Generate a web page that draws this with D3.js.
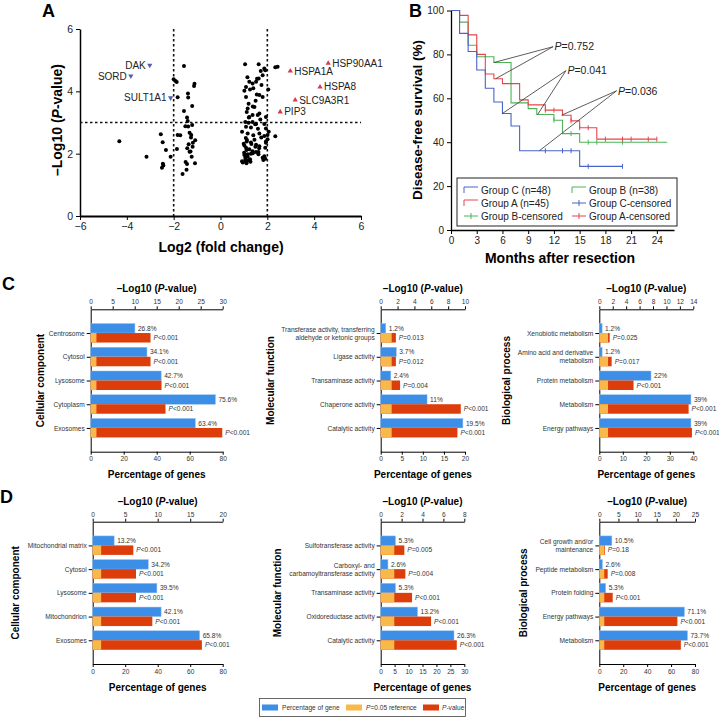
<!DOCTYPE html>
<html>
<head>
<meta charset="utf-8">
<script src="https://cdn.jsdelivr.net/npm/d3@7"></script>
<style>
  body { margin: 0; background: #fff; }
  svg { font-family: "Liberation Sans", Arial, sans-serif; }
</style>
</head>
<body>
<div id="fig"></div>
<script>
// ---------- panel A : volcano ----------
// [log2 fold change, -log10 p]
const volcanoPoints = [
  [-4.32,2.40],[-3.16,1.90],[-2.55,2.62],[-2.47,2.37],[-2.33,2.12],[-2.46,1.68],[-2.50,1.55],[-2.44,1.62],
  [-2.13,1.90],[-2.00,4.39],[-1.92,4.33],[-1.87,4.30],[-1.83,3.81],[-1.83,2.60],[-1.72,2.59],[-1.86,2.15],
  [-1.56,4.81],[-1.56,3.37],[-1.43,3.16],[-1.40,3.05],[-1.38,2.87],[-1.50,2.88],[-1.26,2.52],[-1.36,2.30],
  [-1.28,2.07],[-1.23,1.90],[-1.43,1.67],[-1.45,1.48],[-1.62,1.35],[-1.39,3.93],[-1.38,3.80],[-1.21,3.53],
  [-1.11,4.24],[-1.13,4.17],[-1.08,2.43],[-1.18,2.35],[-1.09,1.69],[-1.25,2.60],[-1.21,2.92],[-1.42,2.17],
  [-1.32,2.06],[-1.32,2.67],[-1.19,2.22],[-1.49,1.73],
  [1.05,4.87],[1.63,4.87],[1.87,4.73],[2.44,4.79],[2.34,4.77],[1.80,4.52],[1.63,4.41],[1.52,4.31],
  [1.37,4.25],[1.23,4.31],[1.09,4.14],[1.26,4.06],[1.40,4.10],[2.04,4.06],[1.66,3.88],[1.09,3.82],
  [1.80,3.82],[1.16,3.45],[1.45,3.50],[1.12,3.34],[1.37,3.24],[1.66,3.29],[1.23,3.18],[1.94,3.18],
  [1.06,3.02],[1.20,2.99],[1.37,3.02],[1.52,2.95],[1.09,2.86],[1.30,2.84],[1.87,2.95],[1.94,2.81],
  [2.06,2.70],[0.92,2.70],[1.16,2.65],[1.40,2.59],[1.66,2.65],[1.74,2.52],[1.87,2.57],[2.01,2.60],
  [2.34,2.56],[2.01,2.46],[1.94,2.39],[1.13,2.44],[1.30,2.36],[1.52,2.29],[1.66,2.24],[0.99,2.32],
  [1.09,2.19],[1.23,2.14],[1.37,2.08],[1.01,2.03],[1.16,1.98],[1.30,2.00],[1.06,1.87],[0.92,1.76],
  [1.09,1.73],[1.26,1.82],[1.80,1.87],[1.87,1.92],[1.62,2.05],[1.91,2.19],
  [1.72,4.65],[1.91,4.68],[1.56,4.40],[1.02,4.02],[1.55,3.90],[1.38,3.51],[1.59,3.24],[1.21,3.16],
  [1.48,2.94],[1.94,2.35],[1.12,2.39],[1.32,2.31],[1.49,2.22],[1.65,2.17],[1.02,2.26],[1.11,2.12],
  [1.38,2.01],[1.02,1.96],[1.16,1.90],[1.06,1.80],[0.95,1.72],[1.11,1.69],[1.28,1.74],[1.83,1.80],
  [1.91,1.84],[1.52,2.05],[1.62,1.98],[1.19,1.78],[1.20,3.60],[1.50,3.70],[1.70,3.10],[1.08,2.50],
  [1.60,2.80],[1.45,2.45],[1.15,4.45],[1.75,4.20]
];
const upGenes = ["HSP90AA1", "HSPA1A", "HSPA8", "SLC9A3R1", "PIP3"];
const upFold = [4.60, 2.98, 4.25, 3.19, 2.55];
const upLogP = [4.90, 4.65, 4.14, 3.72, 3.34];
const downGenes = ["DAK", "SORD", "SULT1A1"];
const downFold = [-3.02, -3.83, -2.13];
const downLogP = [4.84, 4.49, 3.79];
const volcanoXTicks = [-6, -4, -2, 0, 2, 4, 6];
const volcanoYTicks = [0, 2, 4, 6];
const foldCut = [-2, 2];
const pCut = 3;

// ---------- panel B : Kaplan-Meier ----------
const groupCMonths = [0, 1, 2, 3, 4, 5, 6, 7, 8, 15, 20];
const groupCSurv = [100, 89.6, 81.3, 72.9, 64.6, 58.3, 53.1, 47.4, 36.1, 29.0, 29.0];
const groupCCensor = [11, 13, 14, 16, 20];
const groupAMonths = [0, 1, 2, 3, 4, 5, 6, 8, 9, 11, 13, 14, 15, 17, 24];
const groupASurv = [100, 97.8, 88.9, 80.0, 71.1, 68.9, 66.7, 59.3, 57.0, 54.6, 52.3, 49.7, 46.6, 41.4, 41.4];
const groupACensor = [11, 12, 14, 15, 16, 18, 20, 21, 23, 24];
const groupBMonths = [0, 1, 2, 3, 5, 7, 9, 10, 12, 13, 15, 25.2];
const groupBSurv = [100, 94.7, 84.2, 78.9, 76.3, 57.9, 55.3, 52.6, 50.0, 43.9, 40.0, 40.0];
const groupBCensor = [12, 14, 16, 17, 20];
const kmMonthTicks = [0, 3, 6, 9, 12, 15, 18, 21, 24];
const kmSurvTicks = [0, 20, 40, 60, 80, 100];
const pNotes = ["0.752", "0.041", "0.036"];
const pAnchor = [[11.9, 83.5], [13.4, 72.6], [19.3, 63.4]];
const pTargets = [[[5.0, 76.3], [5.2, 68.9]], [[6.0, 53.1], [10.1, 52.6]], [[12.9, 52.3], [10.3, 36.1]]];

// ---------- panels C / D : enrichment bars ----------
const refLogP = 1.301; // -log10(0.05)

const c1Cats = ["Centrosome", "Cytosol", "Lysosome", "Cytoplasm", "Exosomes"];
const c1Pct = [26.8, 34.1, 42.7, 75.6, 63.4];
const c1LogP = [13.6, 13.6, 16.1, 17.0, 29.9];
const c1PText = ["<0.001", "<0.001", "<0.001", "<0.001", "<0.001"];

const c2Cats = ["Transferase activity, transferring\naldehyde or ketonic groups", "Ligase activity",
  "Transaminase activity", "Chaperone activity", "Catalytic activity"];
const c2Pct = [1.2, 3.7, 2.4, 11, 19.5];
const c2LogP = [1.8, 1.8, 2.3, 9.5, 9.1];
const c2PText = ["=0.013", "=0.012", "=0.004", "<0.001", "<0.001"];

const c3Cats = ["Xenobiotic metabolism", "Amino acid and derivative\nmetabolism", "Protein metabolism",
  "Metabolism", "Energy pathways"];
const c3Pct = [1.2, 1.2, 22, 39, 39];
const c3LogP = [1.55, 1.84, 5.1, 13.3, 13.8];
const c3PText = ["=0.025", "=0.017", "<0.001", "<0.001", "<0.001"];

const d1Cats = ["Mitochondrial matrix", "Cytosol", "Lysosome", "Mitochondrion", "Exosomes"];
const d1Pct = [13.2, 34.2, 39.5, 42.1, 65.8];
const d1LogP = [6.25, 6.66, 6.66, 9.17, 16.8];
const d1PText = ["<0.001", "<0.001", "<0.001", "<0.001", "<0.001"];

const d2Cats = ["Sulfotransferase activity", "Carboxyl- and\ncarbamoyltransferase activity",
  "Transaminase activity", "Oxidoreductase activity", "Catalytic activity"];
const d2Pct = [5.3, 2.6, 5.3, 13.2, 26.3];
const d2LogP = [2.26, 2.36, 3.0, 4.82, 7.28];
const d2PText = ["=0.005", "=0.004", "<0.001", "<0.001", "<0.001"];

const d3Cats = ["Cell growth and/or\nmaintenance", "Peptide metabolism", "Protein folding",
  "Energy pathways", "Metabolism"];
const d3Pct = [10.5, 2.6, 5.3, 71.1, 73.7];
const d3LogP = [1.45, 2.19, 3.5, 20.4, 21.3];
const d3PText = ["=0.18", "=0.008", "<0.001", "<0.001", "<0.001"];

const legendNames = ["Percentage of gene", "P=0.05 reference", "P-value"];

const blue = "#3d8ee6", orange = "#f8b94a", red = "#dc3d0b";

const width = 719, height = 718;
const svg = d3.select("#fig").append("svg")
  .attr("width", width).attr("height", height)
  .attr("viewBox", [0, 0, width, height]);

function panelLetter(t, x, y) {
  svg.append("text").attr("x", x).attr("y", y)
    .style("font-size", "18px").style("font-weight", "bold").text(t);
}

// text with italic "P"
function pText(sel, rest) {
  sel.append("tspan").style("font-style", "italic").text("P");
  sel.append("tspan").text(rest);
}

/* ===================== Panel A ===================== */
{
  const x = d3.scaleLinear().domain([-6, 6]).range([80, 361]);
  const y = d3.scaleLinear().domain([0, 6]).range([216, 29]);
  const g = svg.append("g");

  g.append("g").attr("transform", "translate(0,216)")
    .call(d3.axisBottom(x).tickValues(volcanoXTicks).tickFormat(d => d < 0 ? "\u2212" + (-d) : d)
      .tickSize(4).tickSizeOuter(0).tickPadding(3))
    .call(a => a.select(".domain").attr("stroke-width", 2))
    .call(a => a.selectAll("text").style("font-size", "10.5px").attr("fill", "#222"));
  g.append("g").attr("transform", "translate(80,0)")
    .call(d3.axisLeft(y).tickValues(volcanoYTicks).tickFormat(d3.format("d"))
      .tickSize(4).tickSizeOuter(0).tickPadding(3))
    .call(a => a.select(".domain").attr("stroke-width", 1.5))
    .call(a => a.selectAll("text").style("font-size", "10.5px").attr("fill", "#222"));

  // cut-off lines
  g.selectAll("line.vcut").data(foldCut).join("line")
    .attr("x1", d => x(d)).attr("x2", d => x(d)).attr("y1", y(6)).attr("y2", y(0))
    .attr("stroke", "#111").attr("stroke-width", 1.6).attr("stroke-dasharray", "2.5,2.5");
  g.append("line").attr("x1", x(-6)).attr("x2", x(6)).attr("y1", y(pCut)).attr("y2", y(pCut))
    .attr("stroke", "#111").attr("stroke-width", 1.6).attr("stroke-dasharray", "2.5,2.5");

  g.selectAll("circle").data(volcanoPoints).join("circle")
    .attr("cx", d => x(d[0])).attr("cy", d => y(d[1])).attr("r", 2).attr("fill", "#000");

  const tri = d3.symbol(d3.symbolTriangle).size(12);
  g.selectAll("path.up").data(upGenes).join("path").attr("class", "up")
    .attr("d", tri).attr("fill", "#d8394e")
    .attr("transform", (d, i) => `translate(${x(upFold[i])},${y(upLogP[i])})`);
  g.selectAll("text.up").data(upGenes).join("text").attr("class", "up")
    .attr("x", (d, i) => x(upFold[i]) + 4).attr("y", (d, i) => y(upLogP[i])).attr("dy", "0.35em")
    .style("font-size", "10px").attr("fill", "#222").text(d => d);
  g.selectAll("path.down").data(downGenes).join("path").attr("class", "down")
    .attr("d", tri).attr("fill", "#5a5ea8")
    .attr("transform", (d, i) => `translate(${x(downFold[i])},${y(downLogP[i])}) rotate(180)`);
  g.selectAll("text.down").data(downGenes).join("text").attr("class", "down")
    .attr("x", (d, i) => x(downFold[i]) - 4).attr("y", (d, i) => y(downLogP[i])).attr("dy", "0.35em")
    .attr("text-anchor", "end")
    .style("font-size", "10px").attr("fill", "#222").text(d => d);

  const yt = g.append("text").attr("transform", "translate(57,120) rotate(-90)")
    .attr("text-anchor", "middle").attr("dy", "0.35em")
    .style("font-size", "14px").style("font-weight", "bold");
  yt.append("tspan").text("\u2013Log10 (");
  yt.append("tspan").style("font-style", "italic").text("P");
  yt.append("tspan").text("-value)");
  g.append("text").attr("x", 221).attr("y", 252).attr("text-anchor", "middle")
    .style("font-size", "14px").style("font-weight", "bold").text("Log2 (fold change)");
}
panelLetter("A", 42, 17);

/* ===================== Panel B ===================== */
{
  const x = d3.scaleLinear().domain([0, 26]).range([451, 674]);
  const y = d3.scaleLinear().domain([0, 100]).range([230, 10.5]);
  const g = svg.append("g");

  g.append("g").attr("transform", "translate(0,230)")
    .call(d3.axisBottom(x).tickValues(kmMonthTicks).tickSize(4).tickSizeOuter(0).tickPadding(3))
    .call(a => a.select(".domain").attr("stroke-width", 1.3))
    .call(a => a.selectAll("text").style("font-size", "10px").attr("fill", "#222"));
  g.append("g").attr("transform", "translate(451,0)")
    .call(d3.axisLeft(y).tickValues(kmSurvTicks).tickSize(4).tickSizeOuter(0).tickPadding(3))
    .call(a => a.select(".domain").attr("stroke-width", 1.3))
    .call(a => a.selectAll("text").style("font-size", "10px").attr("fill", "#222"));

  const groups = [
    { months: groupBMonths, surv: groupBSurv, censor: groupBCensor, color: "#4fb356" },
    { months: groupAMonths, surv: groupASurv, censor: groupACensor, color: "#e8444a" },
    { months: groupCMonths, surv: groupCSurv, censor: groupCCensor, color: "#4a63c8" }
  ];
  const line = d3.line().curve(d3.curveStepAfter).x(d => x(d[0])).y(d => y(d[1]));
  groups.forEach(gr => {
    const pts = gr.months.map((m, i) => [m, gr.surv[i]]);
    g.append("path").attr("d", line(pts)).attr("fill", "none")
      .attr("stroke", gr.color).attr("stroke-width", 1.1);
    gr.censor.forEach(c => {
      const idx = d3.bisectRight(gr.months, c) - 1;
      const yy = y(gr.surv[Math.max(0, idx)]);
      g.append("line").attr("x1", x(c)).attr("x2", x(c)).attr("y1", yy - 2.5).attr("y2", yy + 2.5)
        .attr("stroke", gr.color).attr("stroke-width", 1);
    });
  });

  // p-value annotations
  pNotes.forEach((p, i) => {
    const [ax, ay] = pAnchor[i];
    pTargets[i].forEach(t => {
      g.append("line").attr("x1", x(ax)).attr("y1", y(ay)).attr("x2", x(t[0])).attr("y2", y(t[1]))
        .attr("stroke", "#333").attr("stroke-width", 0.8);
    });
    const tx = g.append("text").attr("x", x(ax) + 1.5).attr("y", y(ay)).attr("dy", "0.35em")
      .style("font-size", "10.5px").attr("fill", "#222");
    pText(tx, "=" + p);
  });

  // legend
  const lg = g.append("g");
  lg.append("rect").attr("x", 457).attr("y", 178).attr("width", 220).attr("height", 48)
    .attr("fill", "#fff").attr("stroke", "#222").attr("stroke-width", 1);
  const items = [
    ["Group C (n=48)", "#4a63c8", "step", 464, 190],
    ["Group B (n=38)", "#4fb356", "step", 572, 190],
    ["Group A (n=45)", "#e8444a", "step", 464, 203],
    ["Group C-censored", "#4a63c8", "cens", 572, 203],
    ["Group B-censored", "#4fb356", "cens", 464, 216],
    ["Group A-censored", "#e8444a", "cens", 572, 216]
  ];
  items.forEach(([t, c, k, lx, ly]) => {
    if (k === "step") {
      lg.append("path").attr("d", `M${lx},${ly + 3}V${ly - 3}H${lx + 14}`)
        .attr("fill", "none").attr("stroke", c).attr("stroke-width", 1);
    } else {
      lg.append("path").attr("d", `M${lx},${ly}H${lx + 14}M${lx + 7},${ly - 3}V${ly + 3}`)
        .attr("fill", "none").attr("stroke", c).attr("stroke-width", 1);
    }
    lg.append("text").attr("x", lx + 17).attr("y", ly).attr("dy", "0.35em")
      .style("font-size", "10px").attr("fill", "#222").text(t);
  });

  g.append("text").attr("transform", "translate(417,120) rotate(-90)")
    .attr("text-anchor", "middle").attr("dy", "0.35em")
    .style("font-size", "13.5px").style("font-weight", "bold").text("Disease-free survival (%)");
  g.append("text").attr("x", 560).attr("y", 263).attr("text-anchor", "middle")
    .style("font-size", "14px").style("font-weight", "bold").text("Months after resection");
}
panelLetter("B", 409, 17);

/* ===================== Panels C and D ===================== */
function barPanel(o) {
  const g = svg.append("g");
  const xPct = d3.scaleLinear().domain([0, o.pctMax]).range([o.x0, o.x1]);
  const xLog = d3.scaleLinear().domain([0, o.logMax]).range([o.x0, o.x1]);
  const y = d3.scalePoint().domain(o.cats).range([o.top, o.bottom]).padding(1);
  const bh = y.step() * 0.4;
  const fs = "6.6px";

  g.append("g").attr("transform", `translate(0,${o.top})`)
    .call(d3.axisTop(xLog).tickValues(o.logTicks).tickSize(3).tickSizeOuter(0).tickPadding(2))
    .call(a => a.selectAll("text").style("font-size", fs).attr("fill", "#333"));
  g.append("g").attr("transform", `translate(0,${o.bottom})`)
    .call(d3.axisBottom(xPct).tickValues(o.pctTicks).tickSize(3).tickSizeOuter(0).tickPadding(2))
    .call(a => a.selectAll("text").style("font-size", fs).attr("fill", "#333"));
  g.append("g").attr("transform", `translate(${o.x0},0)`)
    .call(d3.axisLeft(y).tickSize(4).tickSizeOuter(0).tickPadding(2))
    .call(a => a.selectAll("text").style("font-size", fs).attr("fill", "#333")
      .each(function(d) {
        const lines = d.split("\n");
        const t = d3.select(this).text(null);
        lines.forEach((l, i) => {
          t.append("tspan").attr("x", -6)
            .attr("dy", i === 0 ? `${0.32 - (lines.length - 1) * 0.62}em` : "1.24em").text(l);
        });
      }));

  const rows = o.cats.map((c, i) => ({ c, pct: o.pct[i], lp: o.logp[i], pt: o.ptext[i] }));
  g.selectAll("rect.pct").data(rows).join("rect").attr("class", "pct")
    .attr("x", o.x0).attr("y", d => y(d.c) - bh).attr("width", d => xPct(d.pct) - o.x0).attr("height", bh)
    .attr("fill", blue).attr("stroke", "#8dbff2").attr("stroke-width", 0.5);
  g.selectAll("rect.lp").data(rows).join("rect").attr("class", "lp")
    .attr("x", o.x0).attr("y", d => y(d.c)).attr("width", d => xLog(d.lp) - o.x0).attr("height", bh)
    .attr("fill", red);
  g.selectAll("rect.ref").data(rows).join("rect").attr("class", "ref")
    .attr("x", o.x0).attr("y", d => y(d.c)).attr("width", xLog(refLogP) - o.x0).attr("height", bh)
    .attr("fill", orange);

  g.selectAll("text.pl").data(rows).join("text").attr("class", "pl")
    .attr("x", d => xPct(d.pct) + 3).attr("y", d => y(d.c) - bh / 2).attr("dy", "0.35em")
    .style("font-size", fs).attr("fill", "#333").text(d => d.pct + "%");
  g.selectAll("text.ppl").data(rows).join("text").attr("class", "ppl")
    .attr("x", d => xLog(d.lp) + 3).attr("y", d => y(d.c) + bh / 2).attr("dy", "0.35em")
    .style("font-size", fs).attr("fill", "#333")
    .each(function(d) { pText(d3.select(this), d.pt); });

  const tt = g.append("text").attr("x", (o.x0 + o.x1) / 2).attr("y", o.top - 17)
    .attr("text-anchor", "middle").style("font-size", "10px").style("font-weight", "bold");
  tt.append("tspan").text("\u2013Log10 (");
  tt.append("tspan").style("font-style", "italic").text("P");
  tt.append("tspan").text("-value)");
  g.append("text").attr("x", (o.x0 + o.x1) / 2).attr("y", o.bottom + 26.5)
    .attr("text-anchor", "middle").style("font-size", "10px").style("font-weight", "bold")
    .text("Percentage of genes");
  g.append("text").attr("transform", `translate(${o.yTitleX},${(o.top + o.bottom) / 2}) rotate(-90)`)
    .attr("text-anchor", "middle").attr("dy", "0.35em")
    .style("font-size", "10px").style("font-weight", "bold").text(o.yTitle);
}

barPanel({ cats: c1Cats, pct: c1Pct, logp: c1LogP, ptext: c1PText, pctMax: 80, logMax: 30,
  pctTicks: [0, 20, 40, 60, 80], logTicks: [0, 5, 10, 15, 20, 25, 30],
  x0: 90.7, x1: 222.7, top: 309.3, bottom: 451.7, yTitle: "Cellular component", yTitleX: 40 });
barPanel({ cats: c2Cats, pct: c2Pct, logp: c2LogP, ptext: c2PText, pctMax: 20, logMax: 10,
  pctTicks: [0, 5, 10, 15, 20], logTicks: [0, 2, 4, 6, 8, 10],
  x0: 380.7, x1: 465, top: 309.3, bottom: 451.7, yTitle: "Molecular function", yTitleX: 270 });
barPanel({ cats: c3Cats, pct: c3Pct, logp: c3LogP, ptext: c3PText, pctMax: 40, logMax: 14,
  pctTicks: [0, 10, 20, 30, 40], logTicks: [0, 2, 4, 6, 8, 10, 12, 14],
  x0: 599.3, x1: 693.3, top: 309.3, bottom: 451.7, yTitle: "Biological process", yTitleX: 506.5 });
barPanel({ cats: d1Cats, pct: d1Pct, logp: d1LogP, ptext: d1PText, pctMax: 80, logMax: 20,
  pctTicks: [0, 20, 40, 60, 80], logTicks: [0, 5, 10, 15, 20],
  x0: 92.7, x1: 222.7, top: 521.7, bottom: 664, yTitle: "Cellular component", yTitleX: 15 });
barPanel({ cats: d2Cats, pct: d2Pct, logp: d2LogP, ptext: d2PText, pctMax: 30, logMax: 8,
  pctTicks: [0, 5, 10, 15, 20, 25, 30], logTicks: [0, 2, 4, 6, 8],
  x0: 380.7, x1: 464.3, top: 521.7, bottom: 664, yTitle: "Molecular function", yTitleX: 277 });
barPanel({ cats: d3Cats, pct: d3Pct, logp: d3LogP, ptext: d3PText, pctMax: 80, logMax: 25,
  pctTicks: [0, 20, 40, 60, 80], logTicks: [0, 5, 10, 15, 20, 25],
  x0: 599.3, x1: 695, top: 521.7, bottom: 664, yTitle: "Biological process", yTitleX: 523 });

panelLetter("C", 2, 290);
panelLetter("D", 0, 503);

/* bottom legend */
{
  const lg = svg.append("g");
  lg.append("rect").attr("x", 259.5).attr("y", 698.5).attr("width", 206).attr("height", 18)
    .attr("fill", "#fff").attr("stroke", "#444").attr("stroke-width", 0.8);
  const sw = [[262, blue], [346, orange], [423, red]];
  const tx = [282, 366, 442];
  legendNames.forEach((n, i) => {
    lg.append("rect").attr("x", sw[i][0]).attr("y", 704.5).attr("width", 16).attr("height", 6)
      .attr("fill", sw[i][1]);
    const t = lg.append("text").attr("x", tx[i]).attr("y", 707.5).attr("dy", "0.35em")
      .style("font-size", "6.6px").attr("fill", "#333");
    if (i > 0) pText(t, n.slice(1)); else t.text(n);
  });
}
</script>
</body>
</html>
